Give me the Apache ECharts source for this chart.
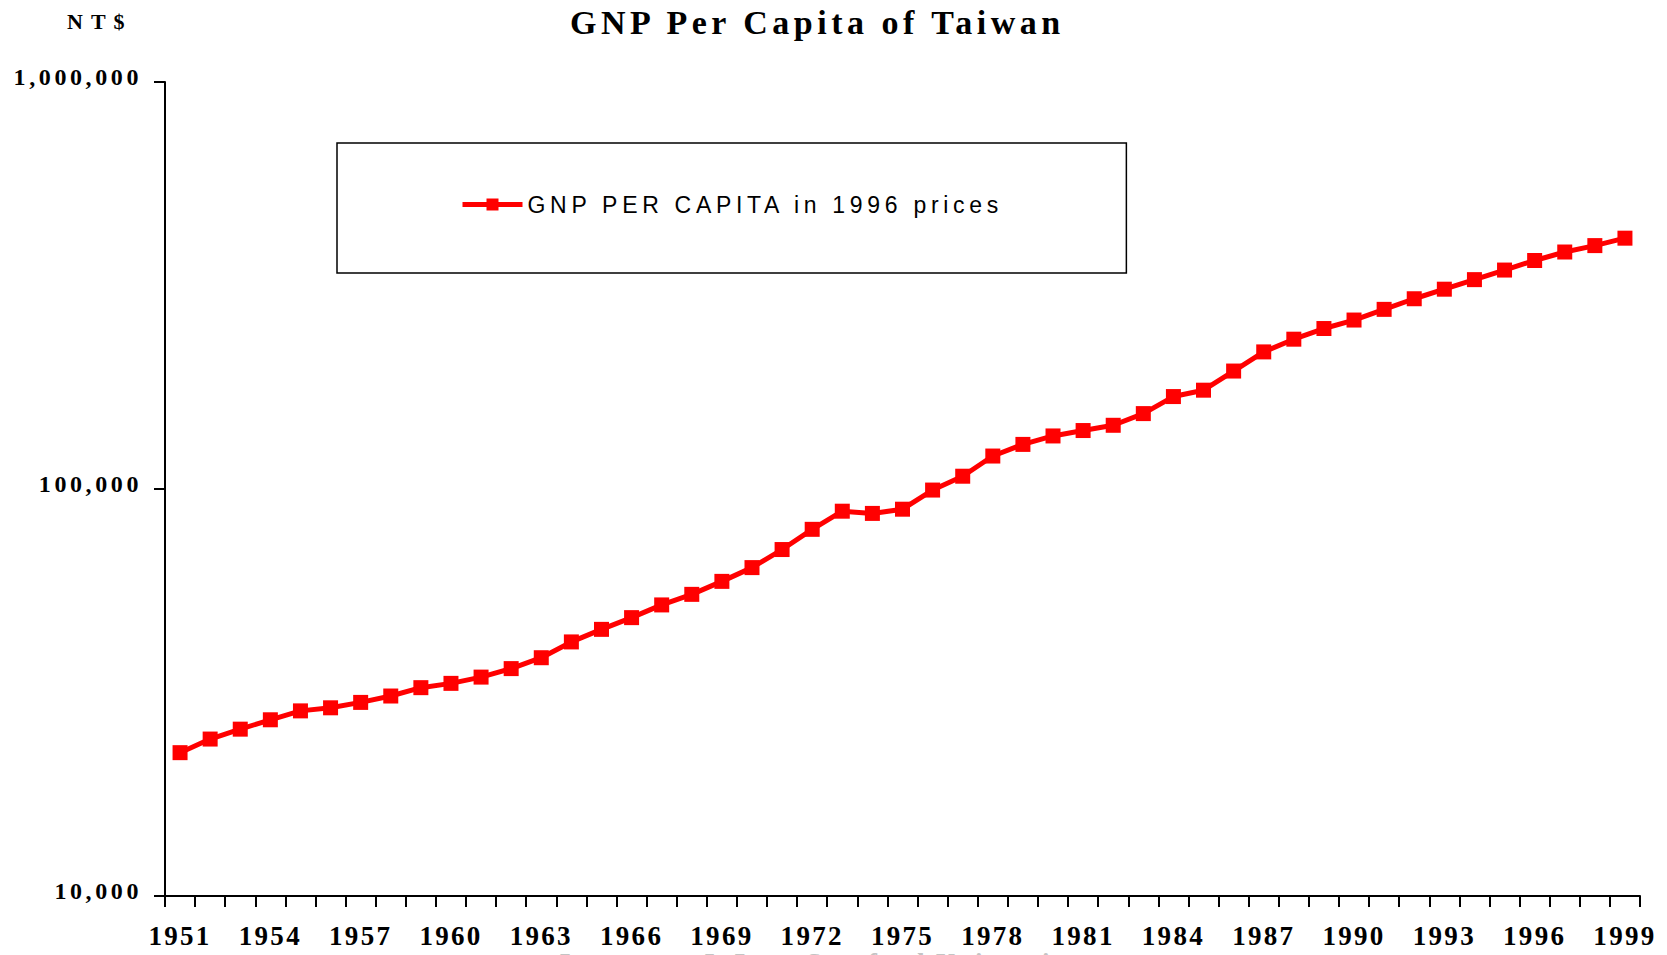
<!DOCTYPE html>
<html>
<head>
<meta charset="utf-8">
<title>GNP Per Capita of Taiwan</title>
<script src="https://cdn.jsdelivr.net/npm/echarts@6/dist/echarts.min.js"></script>
<style>
  html, body { margin: 0; padding: 0; background: #fff; }
  #chart { width: 1667px; height: 955px; }
</style>
</head>
<body>
<div id="chart"></div>
<script>
// 台湾人均GNP（1996年价格），对数坐标
var years = ['1951','1952','1953','1954','1955','1956','1957','1958','1959','1960',
	'1961','1962','1963','1964','1965','1966','1967','1968','1969','1970',
	'1971','1972','1973','1974','1975','1976','1977','1978','1979','1980',
	'1981','1982','1983','1984','1985','1986','1987','1988','1989','1990',
	'1991','1992','1993','1994','1995','1996','1997','1998','1999'];
var gnpPerCapita = [22500, 24300, 25700, 27100, 28500, 29000, 29900, 31000, 32500, 33300,
	34500, 36200, 38500, 42100, 45200, 48300, 51900, 55100, 59300, 64100,
	71000, 79600, 88200, 87100, 89200, 99400, 107500, 120500, 128700, 135000,
	139200, 143400, 153200, 168700, 174900, 194900, 217200, 233400, 247900, 260100,
	276300, 293400, 309700, 326900, 345100, 364300, 382200, 396300, 413300];
var yTicks = [10000, 100000, 1000000];
var seriesName = 'GNP PER CAPITA in 1996 prices';
var titleText = 'GNP Per Capita of Taiwan';
var unitText = 'NT$';
var sourceText = 'Lawrence J. Lau, Stanford University';

var serif = '"Liberation Serif", "Times New Roman", serif';
var sans = '"Liberation Sans", Arial, sans-serif';

// 字号 -> 字间距 (原图的字都拉开了)
var spacing = { '34px': 4.5, '22px': 8, '24px': 3.6, '23px': 4.7, '27px': 2.3 };

var dom = document.getElementById('chart');
var myChart = echarts.init(dom, null, { renderer: 'svg' });

var option = {
	animation: false,
	backgroundColor: '#fff',
	title: [
		{
			text: titleText,
			left: 570,
			top: 5,
			padding: 0,
			textStyle: { fontFamily: serif, fontWeight: 'bold', fontSize: 34, color: '#000' }
		},
		{
			text: unitText,
			left: 67,
			top: 10,
			padding: 0,
			textStyle: { fontFamily: serif, fontWeight: 'bold', fontSize: 22, color: '#000' }
		}
	],
	legend: {
		left: 337,
		top: 143,
		orient: 'horizontal',
		padding: [50, 258, 57, 123],
		borderColor: '#000',
		borderWidth: 1.5,
		itemWidth: 60,
		itemHeight: 15,
		itemGap: 5,
		lineStyle: { width: 5 },
		textStyle: { fontFamily: sans, fontSize: 23, color: '#000' },
		data: [seriesName]
	},
	grid: {
		left: 165,
		right: 27,
		top: 82,
		bottom: 59,
		containLabel: false
	},
	xAxis: {
		type: 'category',
		data: years,
		boundaryGap: true,
		axisLine: { lineStyle: { color: '#000', width: 2 } },
		axisTick: { show: true, interval: 0, alignWithLabel: false, length: 11, lineStyle: { color: '#000', width: 2 } },
		axisLabel: {
			interval: 2,
			margin: 26,
			fontFamily: serif,
			fontWeight: 'bold',
			fontSize: 27,
			color: '#000'
		},
		splitLine: { show: false }
	},
	yAxis: {
		type: 'log',
		logBase: 10,
		min: yTicks[0],
		max: yTicks[yTicks.length - 1],
		axisLine: { show: true, lineStyle: { color: '#000', width: 2 } },
		axisTick: { show: true, length: 11, lineStyle: { color: '#000', width: 2 } },
		axisLabel: {
			margin: 23,
			verticalAlign: 'bottom',
			lineHeight: 11,
			fontFamily: serif,
			fontWeight: 'bold',
			fontSize: 24,
			color: '#000',
			formatter: function (value) {
				return Number(value).toLocaleString('en-US');
			}
		},
		splitLine: { show: false },
		minorTick: { show: false }
	},
	graphic: [
		{
			type: 'text',
			left: 560,
			top: 949,
			silent: true,
			style: {
				text: sourceText,
				fill: '#c4c4c4',
				font: 'bold 27px ' + serif
			}
		}
	],
	series: [
		{
			name: seriesName,
			type: 'line',
			data: gnpPerCapita,
			symbol: 'rect',
			symbolSize: 15,
			showAllSymbol: true,
			lineStyle: { color: '#ff0000', width: 5 },
			itemStyle: { color: '#ff0000' }
		}
	]
};

myChart.setOption(option);

function spreadLetters() {
	var texts = dom.querySelectorAll('svg text');
	for (var i = 0; i < texts.length; i++) {
		var fs = window.getComputedStyle(texts[i]).fontSize;
		if (spacing[fs] !== undefined) {
			texts[i].setAttribute('letter-spacing', spacing[fs] + 'px');
		}
	}
}
myChart.on('finished', spreadLetters);
spreadLetters();
setTimeout(spreadLetters, 50);
</script>
</body>
</html>
